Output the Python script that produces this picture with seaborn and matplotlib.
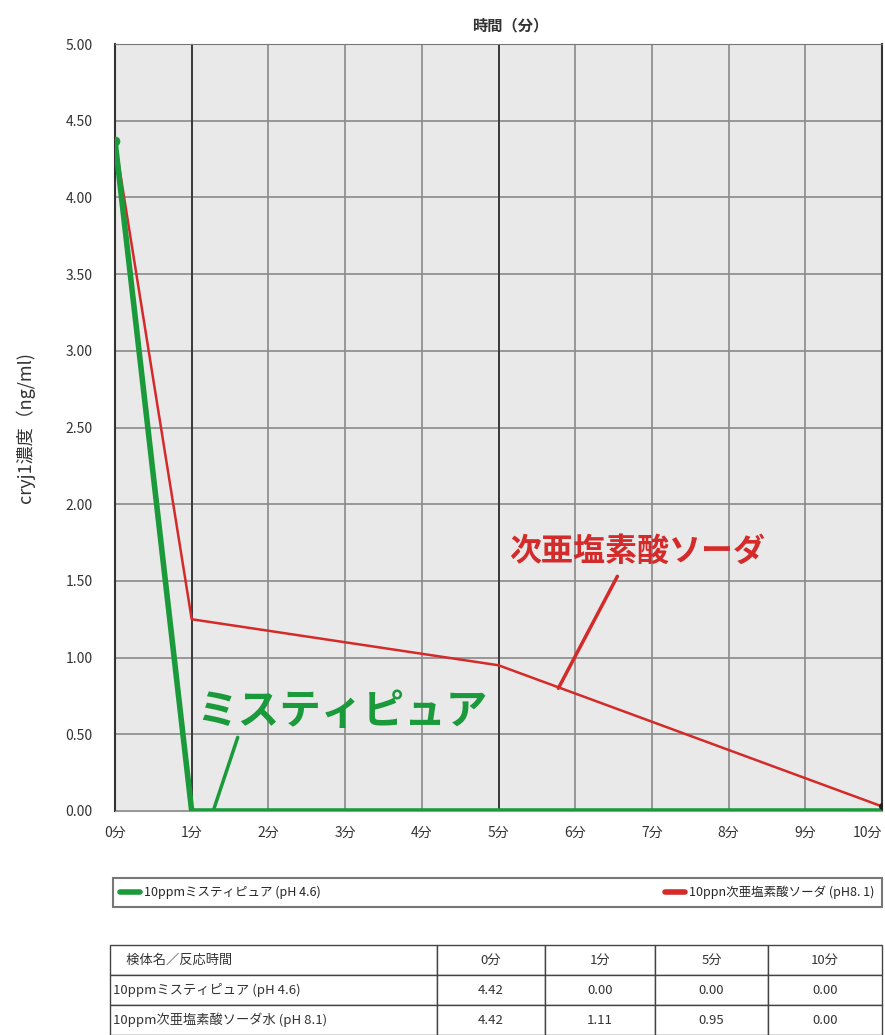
import numpy as np
import pandas as pd
import matplotlib
matplotlib.use("Agg")
import matplotlib.pyplot as plt
import seaborn as sns

# time axis (minutes) and the plotted curves
minutes = list(range(11))
tick_labels = [f"{m}分" for m in minutes]
sample_times = [0, 1, 5, 10]
misty_values = [4.37, 0.0, 0.0, 0.0]
hypo_values = [4.37, 1.25, 0.95, 0.03]

legend_misty = "10ppmミスティピュア (pH 4.6)"
legend_hypo = "10ppn次亜塩素酸ソーダ (pH8. 1)"

# table under the chart
table_header = ["　検体名／反応時間", "0分", "1分", "5分", "10分"]
table_rows = [
    ["10ppmミスティピュア (pH 4.6)", "4.42", "0.00", "0.00", "0.00"],
    ["10ppm次亜塩素酸ソーダ水 (pH 8.1)", "4.42", "1.11", "0.95", "0.00"],
]

sns.set_style("white")
plt.rcParams["font.family"] = ["Noto Sans CJK JP", "DejaVu Sans"]

GREEN = "#1a9a3a"
RED = "#d42a2a"

fig = plt.figure(figsize=(8.85, 10.35), dpi=100)
ax = fig.add_axes([115 / 885, 1 - 811 / 1035, 767 / 885, 767 / 1035])
ax.set_facecolor("#e9e9e9")

df = pd.DataFrame({
    "t": sample_times * 2,
    "v": misty_values + hypo_values,
    "s": [legend_misty] * 4 + [legend_hypo] * 4,
})
sns.lineplot(data=df[df.s == legend_hypo], x="t", y="v", color=RED, lw=1.8,
             ax=ax, label=legend_hypo, zorder=4)
sns.lineplot(data=df[df.s == legend_misty], x="t", y="v", color=GREEN, lw=4,
             ax=ax, label=legend_misty, zorder=5)
ax.plot(sample_times[0], misty_values[0], "o", color=GREEN, ms=6, zorder=6)
ax.plot(sample_times[-1], hypo_values[-1], "o", color="#222222", ms=4, zorder=6)

ax.set_xlim(0, 10)
ax.set_ylim(0, 5)
ax.set_xticks(minutes)
ax.set_xticklabels(tick_labels, fontsize=10, color="#333333")
ax.get_xticklabels()[-1].set_ha("right")
ax.set_yticks(np.arange(0, 5.01, 0.5))
ax.set_yticklabels([f"{v:.2f}" for v in np.arange(0, 5.01, 0.5)],
                   fontsize=10, color="#333333")
ax.tick_params(axis="x", length=0, pad=11)
ax.tick_params(axis="y", length=0, pad=16)
ax.grid(True, color="#8a8a8a", lw=1.2)
for t in sample_times[1:-1]:
    ax.axvline(t, color="#333333", lw=1.3, zorder=1)
for side in ["left", "right"]:
    ax.spines[side].set_color("#333333")
    ax.spines[side].set_linewidth(1.5)
ax.spines["top"].set_color("#777777")
ax.spines["bottom"].set_color("#999999")

ax.set_xlabel("")
ax.set_ylabel("cryj1濃度（ng/ml)", fontsize=13, color="#333333", labelpad=22)
fig.text(0.577, 0.975, "時間（分）", fontsize=11, fontweight="bold",
         color="#333333", ha="center", va="center")

# callouts
ax.text(2.96, 0.645, "ミスティピュア", color=GREEN, fontsize=30,
        fontweight="bold", ha="center", va="center")
ax.plot([1.60, 1.28], [0.48, 0.0], color=GREEN, lw=2.5, zorder=5)
ax.text(6.81, 1.69, "次亜塩素酸ソーダ", color=RED, fontsize=23,
        fontweight="bold", ha="center", va="center")
ax.plot([6.55, 5.78], [1.53, 0.80], color=RED, lw=2.5, zorder=5)

# legend box below the chart
h, l = ax.get_legend_handles_labels()
order = [l.index(legend_misty), l.index(legend_hypo)]
leg = ax.legend([h[i] for i in order], [l[i] for i in order],
                loc="center", bbox_to_anchor=(-0.003, -0.129, 1.003, 0.046),
                mode="expand", ncol=2, fontsize=9, frameon=True,
                fancybox=False, edgecolor="#555555", handlelength=1.6,
                handletextpad=0.3, borderaxespad=0, borderpad=0.6)
leg.get_frame().set_linewidth(1.5)
for line in leg.get_lines():
    line.set_linewidth(4)

# data table
tax = fig.add_axes([110 / 885, 0, 772 / 885, 90 / 1035])
tax.axis("off")
widths = np.array([327, 108, 110, 113, 114], dtype=float)
tbl = tax.table(cellText=table_rows, colLabels=table_header,
                colWidths=list(widths / widths.sum()), bbox=[0, 0, 1, 1],
                cellLoc="center")
tbl.auto_set_font_size(False)
tbl.set_fontsize(9.5)
for (r, c), cell in tbl.get_celld().items():
    cell.set_edgecolor("#444444")
    cell.set_linewidth(1.0)
    cell.get_text().set_color("#333333")
    if c == 0:
        cell.get_text().set_ha("left")
        cell.PAD = 0.01

fig.savefig("out.png", dpi=100)
